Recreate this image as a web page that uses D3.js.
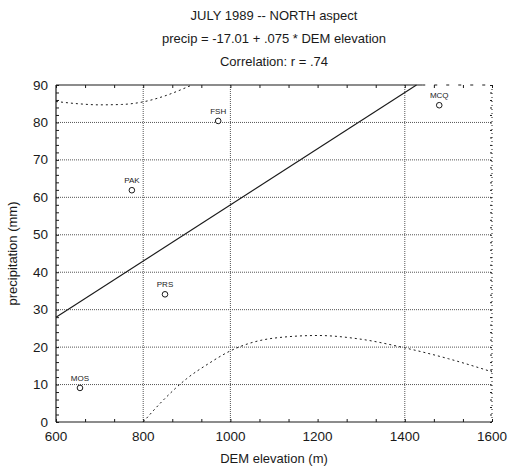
<!DOCTYPE html>
<html>
<head>
<meta charset="utf-8">
<script src="https://cdn.jsdelivr.net/npm/d3@7"></script>
<style>
  html, body { margin: 0; padding: 0; background: #fff; }
  svg { display: block; font-family: "Liberation Sans", Arial, Helvetica, sans-serif; }
</style>
</head>
<body>
<svg id="chart" width="510" height="469"></svg>
<script>
// Station observations: elevation (m) and July 1989 precipitation (mm)
const stations  = ["MOS", "PRS", "PAK", "FSH", "MCQ"];
const elevation = [655, 850, 774, 972, 1479];
const precip    = [9.1, 34.1, 61.9, 80.4, 84.6];

// Fitted regression: precip = intercept + slope * elevation
const intercept = -17.01;
const slope = 0.075;

// Confidence band around the fit
const upperBandElev = [600, 650, 700, 750, 800, 850, 900, 912];
const upperBandVal  = [85.6, 85.0, 84.7, 84.8, 85.5, 87.1, 89.4, 90];
const lowerBandElev = [800, 850, 900, 950, 1000, 1100, 1200, 1300, 1400, 1500, 1600];
const lowerBandVal  = [0, 6.3, 11.6, 15.6, 19.0, 22.4, 23.1, 22.1, 19.8, 16.9, 13.4];

// Axes
const xTicks = [600, 800, 1000, 1200, 1400, 1600];
const yTicks = [0, 10, 20, 30, 40, 50, 60, 70, 80, 90];
const xGrid  = [800, 1000, 1400];
const yGrid  = [10, 20, 30, 40, 50, 60, 70, 80];

const titleLines = [
  "JULY 1989 -- NORTH aspect",
  "precip = -17.01 + .075 * DEM elevation",
  "Correlation: r = .74"
];
const xLabel = "DEM elevation (m)";
const yLabel = "precipitation (mm)";

const svg = d3.select("#chart");
const pLeft = 56, pRight = 492, pTop = 85, pBottom = 422;

const x = d3.scaleLinear().domain([600, 1600]).range([pLeft, pRight]);
const y = d3.scaleLinear().domain([0, 90]).range([pBottom, pTop]);

const ink = "#1a1a1a";
const gridInk = "#555";

// Grid
svg.append("g").selectAll("line").data(yGrid).join("line")
  .attr("x1", pLeft).attr("x2", pRight)
  .attr("y1", d => y(d)).attr("y2", d => y(d))
  .attr("stroke", gridInk).attr("stroke-width", 1)
  .attr("stroke-dasharray", "1,1");
svg.append("g").selectAll("line").data(xGrid).join("line")
  .attr("x1", d => x(d)).attr("x2", d => x(d))
  .attr("y1", pBottom).attr("y2", pTop)
  .attr("stroke", gridInk).attr("stroke-width", 1)
  .attr("stroke-dasharray", "1,1");

// Frame: solid left / bottom / top, dotted right
const frame = svg.append("g");
frame.append("line").attr("x1", pLeft).attr("x2", pLeft).attr("y1", pTop).attr("y2", pBottom)
  .attr("stroke", ink).attr("stroke-width", 1.2);
frame.append("line").attr("x1", pLeft).attr("x2", pRight).attr("y1", pBottom).attr("y2", pBottom)
  .attr("stroke", ink).attr("stroke-width", 1.2);
frame.append("line").attr("x1", pLeft).attr("x2", x(1440)).attr("y1", pTop).attr("y2", pTop)
  .attr("stroke", ink).attr("stroke-width", 1.2);
frame.append("line").attr("x1", x(1440)).attr("x2", pRight).attr("y1", pTop).attr("y2", pTop)
  .attr("stroke", ink).attr("stroke-width", 1).attr("stroke-dasharray", "3,9");
frame.append("line").attr("x1", pRight).attr("x2", pRight).attr("y1", pTop).attr("y2", pBottom)
  .attr("stroke", ink).attr("stroke-width", 1).attr("stroke-dasharray", "1,3");

// Axes with inward ticks, minor ticks between majors
const xMinor = d3.range(600, 1600.01, 200 / 3);
const yMinor = d3.range(0, 90.01, 2);

const xAxis = svg.append("g").attr("transform", `translate(0,${pBottom})`)
  .call(d3.axisBottom(x).tickValues(xMinor).tickSize(-3).tickFormat(""));
xAxis.select(".domain").remove();
xAxis.selectAll("line").attr("stroke", ink);
const xTop = svg.append("g").attr("transform", `translate(0,${pTop})`)
  .call(d3.axisTop(x).tickValues(xMinor).tickSize(-3).tickFormat(""));
xTop.select(".domain").remove();
xTop.selectAll("line").attr("stroke", ink);

const yAxis = svg.append("g").attr("transform", `translate(${pLeft},0)`)
  .call(d3.axisLeft(y).tickValues(yMinor).tickSize(-3).tickFormat(""));
yAxis.select(".domain").remove();
yAxis.selectAll("line").attr("stroke", ink);
const yRight = svg.append("g").attr("transform", `translate(${pRight},0)`)
  .call(d3.axisRight(y).tickValues(yMinor).tickSize(-2).tickFormat(""));
yRight.select(".domain").remove();
yRight.selectAll("line").attr("stroke", ink);

// Tick labels
svg.append("g").selectAll("text").data(xTicks).join("text")
  .attr("x", d => x(d)).attr("y", pBottom + 19)
  .attr("text-anchor", "middle").attr("font-size", 13.5).attr("fill", ink)
  .text(d => d);
svg.append("g").selectAll("text").data(yTicks).join("text")
  .attr("x", pLeft - 8).attr("y", d => y(d) + 4.5)
  .attr("text-anchor", "end").attr("font-size", 13.5).attr("fill", ink)
  .text(d => d);

// Confidence band curves
const band = d3.line().x(d => x(d[0])).y(d => y(d[1])).curve(d3.curveMonotoneX);
svg.append("path")
  .attr("d", band(d3.zip(upperBandElev, upperBandVal)))
  .attr("fill", "none").attr("stroke", ink).attr("stroke-width", 1)
  .attr("stroke-dasharray", "2,3");
svg.append("path")
  .attr("d", band(d3.zip(lowerBandElev, lowerBandVal)))
  .attr("fill", "none").attr("stroke", ink).attr("stroke-width", 1)
  .attr("stroke-dasharray", "2,3");

// Regression line, from the left edge up to the 90 mm ceiling
const fitEnd = (90 - intercept) / slope;
svg.append("line")
  .attr("x1", x(600)).attr("y1", y(intercept + slope * 600))
  .attr("x2", x(fitEnd)).attr("y2", y(intercept + slope * fitEnd))
  .attr("stroke", ink).attr("stroke-width", 1.1);

// Stations
const pts = d3.zip(stations, elevation, precip);
const g = svg.append("g");
g.selectAll("circle").data(pts).join("circle")
  .attr("cx", d => x(d[1])).attr("cy", d => y(d[2])).attr("r", 2.8)
  .attr("fill", "#fff").attr("stroke", ink).attr("stroke-width", 1);
g.selectAll("text").data(pts).join("text")
  .attr("x", d => x(d[1])).attr("y", d => y(d[2]) - 7)
  .attr("text-anchor", "middle").attr("font-size", 8).attr("fill", ink)
  .text(d => d[0]);

// Titles
svg.append("g").selectAll("text").data(titleLines).join("text")
  .attr("x", 274).attr("y", (d, i) => 20 + i * 23)
  .attr("text-anchor", "middle").attr("font-size", 13).attr("fill", ink)
  .text(d => d);

svg.append("text")
  .attr("x", 274).attr("y", 463)
  .attr("text-anchor", "middle").attr("font-size", 13).attr("fill", ink)
  .text(xLabel);
svg.append("text")
  .attr("transform", `translate(17,${(pTop + pBottom) / 2}) rotate(-90)`)
  .attr("text-anchor", "middle").attr("font-size", 13).attr("fill", ink)
  .text(yLabel);
</script>
</body>
</html>
